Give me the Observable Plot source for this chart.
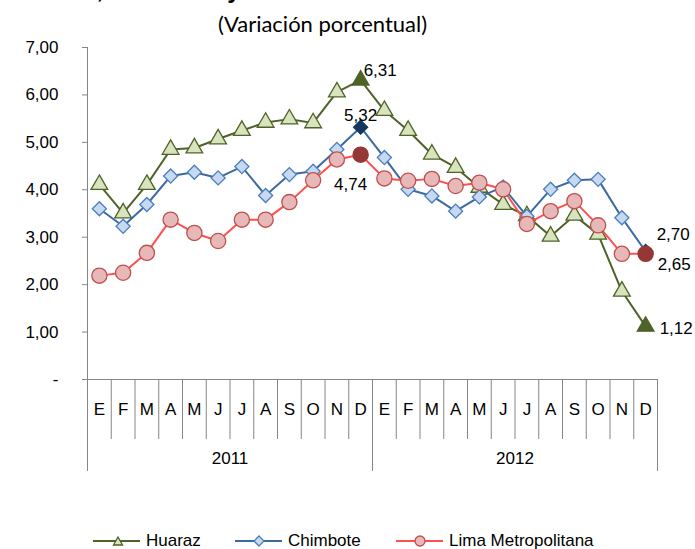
<!DOCTYPE html>
<html>
<head>
<meta charset="utf-8">
<script src="https://cdn.jsdelivr.net/npm/d3@7"></script>
<script src="https://cdn.jsdelivr.net/npm/@observablehq/plot@0.6"></script>
<style>
  html, body { margin: 0; padding: 0; background: #fff; }
  #wrap { position: relative; width: 695px; height: 549px; overflow: hidden; font-family: "Liberation Sans", Arial, sans-serif; }
  #title { position: absolute; left: 0; top: -24px; width: 640px; text-align: center; font: bold 24px "Liberation Sans", Arial, sans-serif; color: #000; white-space: nowrap; }
  #subtitle { position: absolute; left: 0; top: 10px; width: 645px; text-align: center; font: 22px Lato, "Open Sans", sans-serif; color: #000; }
  #chart { position: absolute; left: 0; top: 30px; }
  #legend { position: absolute; left: 0; top: 530px; width: 695px; height: 20px; font: 17px "Liberation Sans", Arial, sans-serif; color: #000; }
  .item { position: absolute; top: 0; display: flex; align-items: center; height: 22px; }
  .item svg { margin-right: 6px; }
</style>
</head>
<body>
<div id="wrap">
  <div id="title">Huaraz, Chimbote y Lima: Inflación últimos 12 meses</div>
  <div id="subtitle">(Variación porcentual)</div>
  <div id="chart"></div>
  <div id="legend"></div>
</div>
<script>
// ---- data ----
const months = ["E","F","M","A","M","J","J","A","S","O","N","D"];
const years = ["2011","2012"];
const seriesNames = ["Huaraz","Chimbote","Lima Metropolitana"];
const huaraz   = [4.11,3.51,4.11,4.85,4.88,5.07,5.25,5.42,5.49,5.41,6.06,6.31, 5.67,5.25,4.75,4.47,4.05,3.69,3.45,3.02,3.46,3.06,1.86,1.12];
const chimbote = [3.60,3.23,3.69,4.29,4.37,4.25,4.49,3.88,4.32,4.39,4.85,5.32, 4.68,4.01,3.87,3.55,3.85,4.06,3.44,4.01,4.20,4.22,3.41,2.70];
const lima     = [2.19,2.25,2.67,3.37,3.09,2.92,3.37,3.37,3.74,4.20,4.64,4.74, 4.24,4.19,4.23,4.08,4.15,4.01,3.28,3.55,3.76,3.25,2.65,2.65];
const yTicks = [0,1,2,3,4,5,6,7];

// ---- styles ----
const styles = {
  "Huaraz":             {line: "#4F6228", fill: "#D7E4BD", stroke: "#4F6228", hi: "#4F6228", symbol: "triangle", r: 6.2, rotate: 0},
  "Chimbote":           {line: "#3B6AA3", fill: "#C6D9F1", stroke: "#4A7EBB", hi: "#17375E", symbol: "square",   r: 5.6, rotate: 45},
  "Lima Metropolitana": {line: "#FF5050", fill: "#E6B9B8", stroke: "#C0504D", hi: "#953735", symbol: "circle",   r: 7.6, rotate: 0}
};
const valuesBy = {"Huaraz": huaraz, "Chimbote": chimbote, "Lima Metropolitana": lima};
const fmt = v => v.toFixed(2).replace(".", ",");
const nMonths = months.length * years.length;
const highlight = new Set([months.length - 1, nMonths - 1]);

// label offsets for highlighted values
const labelPos = {
  "Huaraz":             [{dx: 3, dy: -10, anchor: "start"}, {dx: 14, dy: 2, anchor: "start"}],
  "Chimbote":           [{dx: 0, dy: -12, anchor: "middle"}, {dx: 11, dy: -17, anchor: "start"}],
  "Lima Metropolitana": [{dx: -10, dy: 30, anchor: "middle"}, {dx: 12, dy: 11, anchor: "start"}]
};

const marks = [];
// axes
const gray = "#868686";
marks.push(Plot.ruleX([-0.5], {y1: 0, y2: 7, stroke: gray}));
marks.push(Plot.axisY({ticks: yTicks, tickFormat: d => d === 0 ? "-" : fmt(d), tickSize: 5, tickPadding: 24, stroke: gray, fontSize: 17, label: null, color: "#000"}));
marks.push(Plot.axisX({ticks: d3.range(-0.5, nMonths, 1), tickSize: 60, tickFormat: () => "", stroke: gray, label: null}));
marks.push(Plot.axisX({ticks: d3.range(-0.5, nMonths + 1, months.length), tickSize: 92, tickFormat: () => "", stroke: gray, label: null}));
marks.push(Plot.axisX({ticks: d3.range(nMonths), tickSize: 0, tickPadding: 23, tickFormat: i => months[i % 12], fontSize: 17, label: null}));
marks.push(Plot.axisX({ticks: years.map((y, k) => k * months.length + (months.length - 1) / 2), tickSize: 0, tickPadding: 72, tickFormat: (d, k) => years[k], fontSize: 17, label: null}));
marks.push(Plot.ruleY([0], {stroke: gray}));

for (const name of seriesNames) {
  const st = styles[name];
  const rows = valuesBy[name].map((v, i) => ({i, v, hi: highlight.has(i)}));
  marks.push(Plot.line(rows, {x: "i", y: "v", stroke: st.line, strokeWidth: 2}));
  marks.push(Plot.dot(rows, {x: "i", y: "v", symbol: () => st.symbol, r: st.r, rotate: st.rotate,
    fill: d => d.hi ? st.hi : st.fill, stroke: d => d.hi ? st.hi : st.stroke, strokeWidth: 1.3}));
  const hiRows = rows.filter(d => d.hi);
  hiRows.forEach((d, k) => {
    const p = labelPos[name][k];
    marks.push(Plot.text([d], {x: "i", y: "v", text: d => fmt(d.v), dx: p.dx, dy: p.dy, textAnchor: p.anchor, fontSize: 17, fill: "#000"}));
  });
}

const chart = Plot.plot({
  width: 695,
  height: 450,
  marginLeft: 87,
  marginRight: 38,
  marginTop: 17,
  marginBottom: 101,
  style: {fontFamily: "'Liberation Sans', Arial, sans-serif", fontSize: "17px", color: "#000", overflow: "visible", background: "transparent"},
  x: {type: "linear", domain: [-0.5, nMonths - 0.5], axis: null},
  y: {type: "linear", domain: [0, 7], axis: null},
  marks
});
document.getElementById("chart").appendChild(chart);

// ---- legend ----
const legendPos = {"Huaraz": 93, "Chimbote": 235, "Lima Metropolitana": 396};
const legend = document.getElementById("legend");
for (const name of seriesNames) {
  const st = styles[name];
  const item = document.createElement("div");
  item.className = "item";
  item.style.left = legendPos[name] + "px";
  let sym;
  if (st.symbol === "triangle") sym = `<path d="M25,6 L29.5,14 L20.5,14 Z" fill="${st.fill}" stroke="${st.stroke}" stroke-width="1.3"/>`;
  else if (st.symbol === "square") sym = `<path d="M24,5 L29,10 L24,15 L19,10 Z" fill="${st.fill}" stroke="${st.stroke}" stroke-width="1.3"/>`;
  else sym = `<circle cx="24" cy="10" r="5" fill="${st.fill}" stroke="${st.stroke}" stroke-width="1.3"/>`;
  item.innerHTML = `<svg width="47" height="20"><line x1="0" x2="47" y1="10" y2="10" stroke="${st.line}" stroke-width="2"/>${sym}</svg><span>${name}</span>`;
  legend.appendChild(item);
}
</script>
</body>
</html>
